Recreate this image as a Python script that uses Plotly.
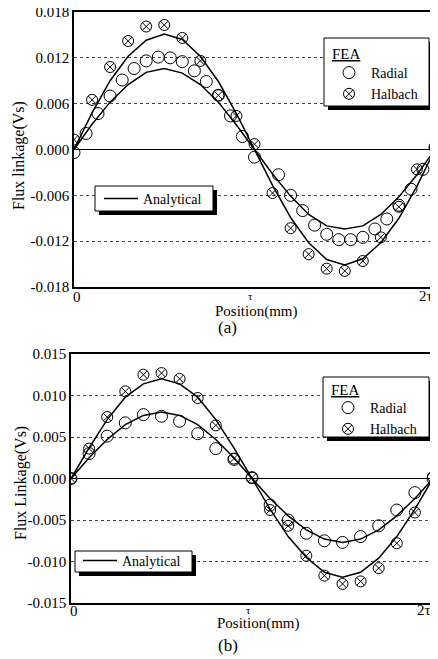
import plotly.graph_objects as go

# Flux linkage vs. position, (a) and (b) panels
# x positions are in units of tau (0 .. 2 tau)

FONT = "Liberation Serif, Times New Roman, serif"
W, H = 430, 651   # page body has an 8px margin, so the figure is 8px smaller
OFF = 8

# ---- panel (a) ----
pos_radial_a = [0, 0.067, 0.133, 0.2, 0.267, 0.333, 0.4, 0.467, 0.533, 0.6, 0.667,
                0.733, 0.8, 0.867, 0.933, 1.0, 1.067, 1.133, 1.2, 1.267, 1.333,
                1.4, 1.467, 1.533, 1.6, 1.667, 1.733, 1.8, 1.867, 1.933, 2.0]
radial_a = [-0.0004, 0.0021, 0.0047, 0.0070, 0.0091, 0.0106, 0.0116, 0.0121, 0.0120, 0.0115, 0.0103,
            0.0089, 0.0071, 0.0044, 0.0017, -0.0010, None, -0.0033, -0.0060, -0.0080, -0.0099,
            -0.0111, -0.0118, -0.0118, -0.0115, -0.0104, -0.0091, -0.0073, -0.0052, -0.0026, 0.0003]

pos_tenth = [0, 0.1, 0.2, 0.3, 0.4, 0.5, 0.6, 0.7, 0.8, 0.9, 1.0,
             1.1, 1.2, 1.3, 1.4, 1.5, 1.6, 1.7, 1.8, 1.9, 2.0]
halbach_a = [0.0013, 0.0065, 0.0108, 0.0142, 0.0161, 0.0163, 0.0146, 0.0116, 0.0071, 0.0044, 0.0007,
             -0.0057, -0.0103, -0.0137, -0.0156, -0.0159, -0.0146, -0.0115, -0.0075, -0.0026, 0.0002]

an_halbach_a = [0, 0.0048, 0.0090, 0.0122, 0.0143, 0.0151, 0.0144, 0.0122, 0.0089, 0.0047, 0.0,
                -0.0047, -0.0089, -0.0122, -0.0144, -0.0151, -0.0143, -0.0122, -0.0090, -0.0048, 0]
an_radial_a = [0, 0.0033, 0.0062, 0.0085, 0.0101, 0.0106, 0.0100, 0.0085, 0.0062, 0.0032, 0,
               -0.0032, -0.0061, -0.0085, -0.0100, -0.0104, -0.0100, -0.0085, -0.0062, -0.0033, 0]

yticks_a = [-0.018, -0.012, -0.006, 0.0, 0.006, 0.012, 0.018]
ytext_a = ["-0.018", "-0.012", "-0.006", "0.000", "0.006", "0.012", "0.018"]

# ---- panel (b) ----
halbach_b = [0.0, 0.0036, 0.0074, 0.0105, 0.0125, 0.0127, 0.0120, 0.0097, 0.0064, 0.0024, 0.0001,
             -0.0038, -0.0057, -0.0093, -0.0117, -0.0127, -0.0124, -0.0108, -0.0078, -0.0041, 0.0002]
radial_b = [0.0, 0.0030, 0.0051, 0.0067, 0.0077, 0.0075, 0.0069, 0.0054, 0.0036, 0.0023, 0.0001,
            -0.0032, -0.0050, -0.0066, -0.0075, -0.0077, -0.0070, -0.0057, -0.0038, -0.0017, 0.0]

an_halbach_b = [0, 0.0037, 0.0071, 0.0098, 0.0114, 0.0120, 0.0114, 0.0098, 0.0071, 0.0037, 0,
                -0.0037, -0.0070, -0.0095, -0.0113, -0.0119, -0.0113, -0.0096, -0.0070, -0.0037, 0]
an_radial_b = [0, 0.0025, 0.0047, 0.0065, 0.0076, 0.0080, 0.0076, 0.0065, 0.0047, 0.0025, 0,
               -0.0024, -0.0045, -0.0062, -0.0073, -0.0077, -0.0073, -0.0062, -0.0045, -0.0024, 0]

yticks_b = [-0.015, -0.010, -0.005, 0.0, 0.005, 0.010, 0.015]
ytext_b = ["-0.015", "-0.010", "-0.005", "0.000", "0.005", "0.010", "0.015"]

# x tick labels (0, tau, 2 tau) - written as annotations on the x scale so the
# end labels can sit inside the frame like in the scan
xticks = [0, 1, 2]
xtext = ["0", "τ", "2τ"]


# page pixel -> paper fraction
def px(x):
    return (x - OFF) / W

def py(y):
    return 1 - (y - OFF) / H


fig = go.Figure()

for xa, ya, an_h, an_r, rad_x, rad_y, hal_y, leg_fea, leg_an in [
        ('x', 'y', an_halbach_a, an_radial_a, pos_radial_a, radial_a, halbach_a, 'legend', 'legend2'),
        ('x2', 'y2', an_halbach_b, an_radial_b, pos_tenth, radial_b, halbach_b, 'legend3', 'legend4')]:
    fig.add_trace(go.Scatter(x=pos_tenth, y=an_h, mode='lines', name='Analytical',
                             line=dict(color='black', width=1.5), xaxis=xa, yaxis=ya,
                             legend=leg_an))
    fig.add_trace(go.Scatter(x=pos_tenth, y=an_r, mode='lines', name='Analytical',
                             line=dict(color='black', width=1.5), xaxis=xa, yaxis=ya,
                             legend=leg_an, showlegend=False))
    fig.add_trace(go.Scatter(x=rad_x, y=rad_y, mode='markers', name='Radial',
                             marker=dict(symbol='circle-open', size=12, color='black',
                                         line=dict(width=1, color='black')),
                             xaxis=xa, yaxis=ya, legend=leg_fea))
    fig.add_trace(go.Scatter(x=pos_tenth, y=hal_y, mode='markers', name='Halbach',
                             marker=dict(symbol='circle-x-open', size=11, color='black',
                                         line=dict(width=1, color='black')),
                             xaxis=xa, yaxis=ya, legend=leg_fea))

xaxis_common = dict(range=[0, 2], tickvals=xticks, showticklabels=False, ticks='',
                    showgrid=False, zeroline=False, showline=True, linecolor='black',
                    linewidth=1.5, mirror=True, automargin=False)
yaxis_common = dict(ticks='', showgrid=True, gridcolor='#444', griddash='dot', gridwidth=1,
                    zeroline=True, zerolinecolor='black', zerolinewidth=1.2,
                    showline=True, linecolor='black', linewidth=1.5, mirror=True,
                    automargin=False, ticklabeloverflow='allow',
                    tickfont=dict(family=FONT, size=15, color='black'))

# legends are transparent; their framed boxes are drawn as shapes below
legend_common = dict(bgcolor='rgba(0,0,0,0)', borderwidth=0,
                     font=dict(family=FONT, size=14, color='black'),
                     xanchor='left', yanchor='top', itemwidth=34, tracegroupgap=0)

annos = []
for txt, x, y, size, angle in [
        ("Position(mm)", 256, 311, 15, 0), ("(a)", 227, 328, 17, 0),
        ("Position(mm)", 258, 623, 15, 0), ("(b)", 228, 645, 17, 0),
        ("Flux linkage(Vs)", 19, 156, 16, -90), ("Flux Linkage(Vs)", 21, 483, 16, -90),
        ("<u>FEA</u>", 346, 54, 15, 0), ("<u>FEA</u>", 345, 390, 15, 0)]:
    annos.append(dict(text=txt, x=px(x), y=py(y), xref='paper', yref='paper',
                      xanchor='center', yanchor='middle',
                      showarrow=False, textangle=angle,
                      font=dict(family=FONT, size=size, color='black')))

# x tick labels: (axis, label row y in page px) ; per label anchor, shift, size
tick_style = [('center', 3, 15, 0), ('center', -4, 11, -1), ('right', 0, 15, -1)]
for xref, row_y in [('x', 297), ('x2', 611)]:
    for val, txt, (anchor, shift, size, dy) in zip(xticks, xtext, tick_style):
        annos.append(dict(text=txt, x=val, y=py(row_y + dy), xref=xref, yref='paper',
                          xanchor=anchor, yanchor='middle', xshift=shift, showarrow=False,
                          font=dict(family=FONT, size=size, color='black')))

# framed legend boxes (x0, y0, x1, y1) in page pixels, each with a drop shadow
boxes = [(324, 38, 429, 106), (95, 186, 213, 211), (323, 377, 429, 437), (75, 551, 192, 572)]
shapes = []
for x0, y0, x1, y1 in boxes:
    shapes.append(dict(type='rect', xref='paper', yref='paper',
                       x0=px(x0 + 4), x1=px(x1 + 4), y0=py(y0 + 4), y1=py(y1 + 4),
                       fillcolor='black', line=dict(width=0), layer='above'))
    shapes.append(dict(type='rect', xref='paper', yref='paper',
                       x0=px(x0), x1=px(x1), y0=py(y0), y1=py(y1),
                       fillcolor='white', line=dict(width=1, color='black'), layer='above'))

fig.update_layout(
    template='none',
    width=W, height=H, autosize=False,
    margin=dict(l=0, r=0, t=0, b=0),
    paper_bgcolor='white', plot_bgcolor='white',
    font=dict(family=FONT, color='black'),
    xaxis=dict(domain=[px(74), px(435)], anchor='y', **xaxis_common),
    yaxis=dict(domain=[py(287), py(12)], anchor='x', range=[-0.018, 0.018],
               tickvals=yticks_a, ticktext=ytext_a, **yaxis_common),
    xaxis2=dict(domain=[px(71), px(433)], anchor='y2', **xaxis_common),
    yaxis2=dict(domain=[py(603), py(354)], anchor='x2', range=[-0.015, 0.015],
                tickvals=yticks_b, ticktext=ytext_b, **yaxis_common),
    legend=dict(x=px(327), y=py(57), **legend_common),
    legend2=dict(x=px(99), y=py(183), **legend_common),
    legend3=dict(x=px(326), y=py(392), **legend_common),
    legend4=dict(x=px(78), y=py(545), **legend_common),
    annotations=annos,
    shapes=shapes,
    showlegend=True,
)

fig.write_html("out.html")
